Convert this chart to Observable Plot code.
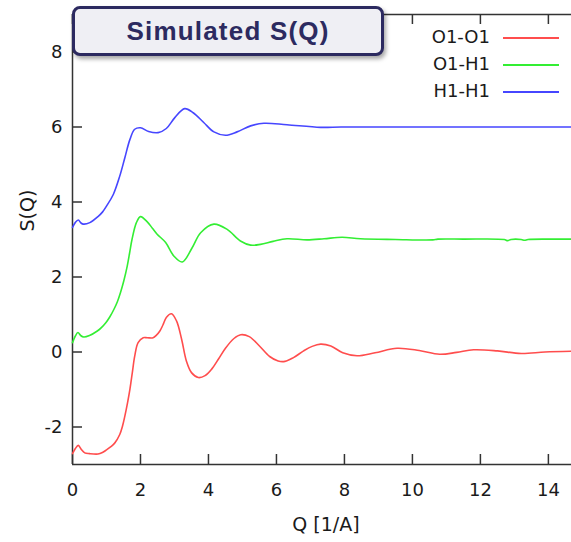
<!DOCTYPE html>
<html>
<head>
<meta charset="utf-8">
<script src="https://cdn.jsdelivr.net/npm/d3@7"></script>
<script src="https://cdn.jsdelivr.net/npm/@observablehq/plot@0.6"></script>
<style>
  html, body { margin: 0; padding: 0; background: #fff; overflow: hidden; }
  #wrap { position: relative; width: 571px; height: 542px; }
  #title {
    position: absolute; left: 72px; top: 6px; width: 306px; height: 44px;
    box-sizing: content-box;
    border: 3px solid #2c2a60; border-radius: 8px; background: #efeff4;
    box-shadow: 2px 3px 4px rgba(0,0,0,0.35);
    font-family: "Liberation Sans", Arial, sans-serif; font-weight: bold;
    font-size: 26px; letter-spacing: 1.2px; color: #2c2a60;
    display: flex; align-items: center; justify-content: center;
  }
  #legend { position: absolute; left: 0; top: 0; width: 571px; height: 110px; pointer-events: none; }
  .lg-text { position: absolute; right: 81px; font-family: "DejaVu Sans", sans-serif; font-size: 18px; color: #1a1a1a; white-space: nowrap; line-height: 20px; }
  .lg-line { position: absolute; left: 503px; width: 56px; height: 0; }
</style>
</head>
<body>
<div id="wrap">
  <div id="chart"></div>
  <div id="title">Simulated S(Q)</div>
  <div id="legend"></div>
</div>
<script>
// ---- data ----
const seriesNames = ["O1-O1", "O1-H1", "H1-H1"];
const seriesColors = ["#ff4d4d", "#33ee33", "#4646ff"];

const qO1O1 = [0, 0.08, 0.17, 0.26, 0.36, 0.5, 0.75, 0.88, 1.0, 1.12, 1.24, 1.39, 1.47, 1.54, 1.62, 1.69, 1.76, 1.83, 1.93, 2.08, 2.2, 2.37, 2.47, 2.57, 2.66, 2.76, 2.91, 3.06, 3.21, 3.35, 3.5, 3.7, 3.9, 4.1, 4.3, 4.5, 4.75, 4.95, 5.2, 5.5, 5.8, 6.05, 6.25, 6.5, 6.8, 7.05, 7.3, 7.6, 7.95, 8.37, 8.9, 9.55, 10.2, 10.8, 11.3, 11.8, 12.5, 13.2, 13.9, 14.68];
const sO1O1 = [-2.71, -2.58, -2.49, -2.6, -2.69, -2.71, -2.72, -2.68, -2.61, -2.53, -2.43, -2.2, -1.98, -1.71, -1.35, -0.99, -0.55, -0.11, 0.25, 0.38, 0.38, 0.38, 0.45, 0.56, 0.72, 0.92, 1.02, 0.83, 0.34, -0.24, -0.55, -0.68, -0.63, -0.45, -0.18, 0.1, 0.36, 0.46, 0.41, 0.16, -0.12, -0.24, -0.25, -0.15, 0.03, 0.15, 0.21, 0.16, -0.02, -0.1, -0.02, 0.1, 0.04, -0.06, -0.01, 0.06, 0.03, -0.04, 0.0, 0.02];

const qO1H1 = [0, 0.08, 0.16, 0.24, 0.33, 0.5, 0.73, 0.85, 0.98, 1.1, 1.22, 1.32, 1.41, 1.51, 1.61, 1.68, 1.75, 1.88, 2.0, 2.2, 2.35, 2.49, 2.74, 2.98, 3.23, 3.52, 3.77, 4.16, 4.55, 4.94, 5.24, 5.53, 5.9, 6.31, 6.9, 7.4, 7.93, 8.47, 9.5, 10.6, 10.75, 11.5, 12.7, 12.8, 12.9, 13.2, 13.3, 13.4, 14.0, 14.68];
const sO1H1 = [0.25, 0.42, 0.52, 0.44, 0.4, 0.44, 0.56, 0.65, 0.78, 0.94, 1.14, 1.34, 1.58, 1.9, 2.29, 2.64, 3.0, 3.45, 3.61, 3.47, 3.3, 3.14, 2.92, 2.56, 2.4, 2.78, 3.18, 3.41, 3.27, 2.96, 2.85, 2.87, 2.95, 3.02, 2.99, 3.02, 3.06, 3.02, 3.0, 2.99, 3.01, 3.01, 3.0, 2.97, 3.0, 3.0, 2.98, 3.0, 3.01, 3.01];

const qH1H1 = [0, 0.08, 0.17, 0.25, 0.32, 0.51, 0.75, 0.88, 1.0, 1.2, 1.39, 1.54, 1.69, 1.83, 2.0, 2.24, 2.52, 2.76, 3.01, 3.3, 3.55, 3.86, 4.16, 4.5, 4.84, 5.24, 5.63, 6.31, 7.3, 7.9, 9.0, 10.5, 12.0, 13.5, 14.68];
const sH1H1 = [3.32, 3.45, 3.52, 3.44, 3.41, 3.45, 3.61, 3.73, 3.89, 4.2, 4.69, 5.18, 5.67, 5.94, 5.98, 5.88, 5.85, 5.96, 6.25, 6.49, 6.38, 6.12, 5.87, 5.78, 5.87, 6.03, 6.1, 6.06, 5.99, 6.0, 6.0, 6.0, 6.0, 6.0, 6.0];

const xTicks = [0, 2, 4, 6, 8, 10, 12, 14];
const yTicks = [-2, 0, 2, 4, 6, 8];
const xDomain = [0, 14.68];
const yDomain = [-3, 9];

// ---- build table ----
const rows = [];
[[qO1O1, sO1O1], [qO1H1, sO1H1], [qH1H1, sH1H1]].forEach(([q, s], i) => {
  q.forEach((v, j) => rows.push({series: seriesNames[i], q: v, s: s[j]}));
});

const W = 571, H = 542;
const mL = 72, mR = 0, mT = 14, mB = 78;
const pw = W - mL - mR, ph = H - mT - mB;
const font = "DejaVu Sans, sans-serif";
const frameColor = "#333";
const fmt = d => String(d);

const chart = Plot.plot({
  width: W, height: H,
  marginLeft: mL, marginRight: mR, marginTop: mT, marginBottom: mB,
  style: {fontFamily: font, background: "white", overflow: "visible"},
  x: {domain: xDomain, ticks: xTicks},
  y: {domain: yDomain, ticks: yTicks},
  color: {domain: seriesNames, range: seriesColors},
  marks: [
    Plot.axisX(xTicks, {tickSize: 0, tickPadding: 19, fontSize: 18, fill: "#1a1a1a", label: null, tickFormat: fmt}),
    Plot.axisY(yTicks, {tickSize: 0, tickPadding: 10, fontSize: 18, fill: "#1a1a1a", label: null, tickFormat: fmt}),
    // inward ticks, bottom and top mirror
    Plot.tickX(xTicks, {x: d => d, insetTop: ph - 10, stroke: frameColor, strokeWidth: 1.5}),
    Plot.tickX(xTicks, {x: d => d, insetBottom: ph - 10, stroke: frameColor, strokeWidth: 1.5}),
    Plot.tickY(yTicks, {y: d => d, insetRight: pw - 10, stroke: frameColor, strokeWidth: 1.5}),
    // frame: left, bottom, top
    Plot.ruleX([xDomain[0]], {stroke: frameColor, strokeWidth: 1.5}),
    Plot.ruleY(yDomain, {stroke: frameColor, strokeWidth: 1.5}),
    Plot.line(rows, {x: "q", y: "s", z: "series", stroke: "series", strokeWidth: 1.6, curve: "catmull-rom"}),
    Plot.text(["Q [1/A]"], {frameAnchor: "bottom", dy: 66, dx: 4, fontSize: 19, fill: "#1a1a1a"}),
    Plot.text(["S(Q)"], {frameAnchor: "left", rotate: -90, dx: -45, dy: -8, fontSize: 19, fill: "#1a1a1a"})
  ]
});
document.getElementById("chart").appendChild(chart);

// legend
const lg = document.getElementById("legend");
const rowY = [38, 65, 92];
seriesNames.forEach((name, i) => {
  const t = document.createElement("div");
  t.className = "lg-text";
  t.style.top = (rowY[i] - 11) + "px";
  t.textContent = name;
  lg.appendChild(t);
  const l = document.createElement("div");
  l.className = "lg-line";
  l.style.top = (rowY[i] - 1) + "px";
  l.style.borderTop = "2px solid " + seriesColors[i];
  lg.appendChild(l);
});
</script>
</body>
</html>
